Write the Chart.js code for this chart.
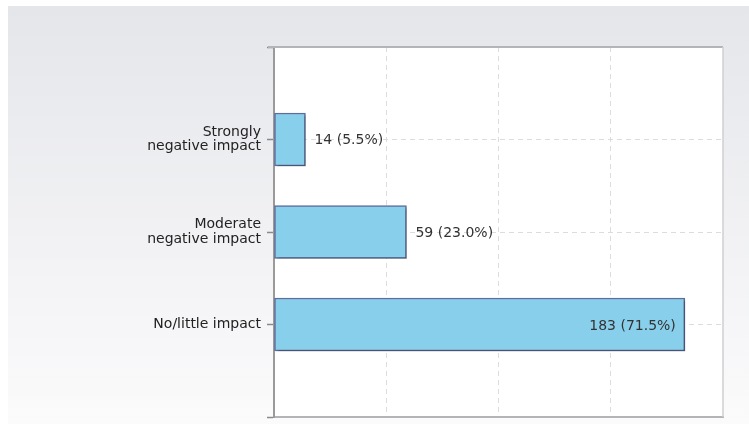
<!DOCTYPE html>
<html>
<head>
<meta charset="utf-8">
<script src="https://cdn.jsdelivr.net/npm/chart.js@4"></script>
<style>
  body { margin: 0; background: #fff; }
  #wrap { width: 749px; height: 424px; }
</style>
</head>
<body>
<div id="wrap"><canvas id="impactChart" width="749" height="424"></canvas></div>
<script>
const categories = [["Strongly", "negative impact"], ["Moderate", "negative impact"], "No/little impact"];
const counts = [14, 59, 183];
const percents = [5.5, 23.0, 71.5];
const xMax = 200;
const xStep = 50;

// blank slots top and bottom so the categories sit on the inner ticks
const labels = [""].concat(categories, [""]);
const values = [null].concat(counts, [null]);
const pcts = [null].concat(percents, [null]);

const panelBg = {
  id: "panelBg",
  beforeDraw(chart) {
    const ctx = chart.ctx;
    const area = chart.chartArea;
    const g = ctx.createLinearGradient(0, 6, 0, chart.height);
    g.addColorStop(0, "#e5e6ea");
    g.addColorStop(1, "#fbfbfc");
    ctx.save();
    ctx.fillStyle = g;
    ctx.fillRect(8, 6, chart.width - 8, chart.height - 6);
    ctx.fillStyle = "#ffffff";
    ctx.fillRect(area.left, area.top, area.right - area.left, area.bottom - area.top);
    ctx.restore();
  },
  afterDraw(chart) {
    const ctx = chart.ctx;
    const area = chart.chartArea;
    ctx.save();
    ctx.strokeStyle = "#b4b4b8";
    ctx.lineWidth = 2;
    ctx.beginPath();
    ctx.moveTo(area.left - 6, area.top);
    ctx.lineTo(area.right, area.top);
    ctx.stroke();
    ctx.strokeStyle = "#cfcfd2";
    ctx.lineWidth = 1.5;
    ctx.beginPath();
    ctx.moveTo(area.right, area.top);
    ctx.lineTo(area.right, area.bottom);
    ctx.stroke();
    ctx.restore();
  },
};

const barShadow = {
  id: "barShadow",
  beforeDatasetsDraw(chart) {
    const ctx = chart.ctx;
    ctx.save();
    ctx.shadowColor = "rgba(0,0,0,0.25)";
    ctx.shadowOffsetX = 2;
    ctx.shadowOffsetY = 2;
    ctx.shadowBlur = 2;
  },
  afterDatasetsDraw(chart) {
    chart.ctx.restore();
  },
};

const valueLabels = {
  id: "valueLabels",
  afterDatasetsDraw(chart) {
    const ctx = chart.ctx;
    const meta = chart.getDatasetMeta(0);
    ctx.save();
    ctx.font = "14px 'DejaVu Sans'";
    ctx.fillStyle = "#333333";
    ctx.textBaseline = "middle";
    meta.data.forEach((bar, i) => {
      if (values[i] === null) return;
      const text = values[i] + " (" + pcts[i].toFixed(1) + "%)";
      const w = ctx.measureText(text).width;
      const barLen = bar.x - bar.base;
      if (barLen > w * 2) {
        ctx.textAlign = "right";
        ctx.fillText(text, bar.x - 9, bar.y + 2);
      } else {
        ctx.textAlign = "left";
        ctx.fillText(text, bar.x + 9, bar.y + 1);
      }
    });
    ctx.restore();
  },
};

const ctx = document.getElementById("impactChart").getContext("2d");
new Chart(ctx, {
  type: "bar",
  data: {
    labels: labels,
    datasets: [
      {
        data: values,
        backgroundColor: "#88cfeb",
        borderColor: "#5d6d9c",
        borderWidth: 1.5,
        borderSkipped: false,
        barThickness: 53,
      },
    ],
  },
  options: {
    indexAxis: "y",
    responsive: false,
    animation: false,
    layout: { padding: { left: 0, top: 47, right: 26, bottom: 7 } },
    plugins: {
      legend: { display: false },
      tooltip: { enabled: false },
    },
    scales: {
      x: {
        min: 0,
        max: xMax,
        ticks: { display: false, stepSize: xStep },
        grid: {
          drawTicks: false,
          color: (c) => (c.index === 0 || c.tick.value === xMax ? "rgba(0,0,0,0)" : "#dcdcdc"),
          lineWidth: 1,
        },
        border: { display: true, color: "#b4b4b8", width: 2, dash: [5, 4] },
        afterFit(scale) {
          scale.height = 0;
          scale.paddingLeft = 0;
          scale.paddingRight = 0;
        },
      },
      y: {
        offset: false,
        ticks: {
          color: "#222222",
          padding: 6,
          autoSkip: false,
          font: { family: "'DejaVu Sans'", size: 14, lineHeight: 1.05 },
        },
        grid: {
          offset: false,
          drawTicks: true,
          tickLength: 7,
          tickColor: "#8a8a8a",
          tickWidth: 1.5,
          color: (c) => (c.index === 0 || c.index === labels.length - 1 ? "rgba(0,0,0,0)" : "#dcdcdc"),
        },
        border: { display: true, color: "#9a9a9a", width: 2, dash: [5, 4] },
        afterFit(scale) {
          scale.width = 274;
          scale.paddingTop = 0;
          scale.paddingBottom = 0;
        },
      },
    },
  },
  plugins: [panelBg, barShadow, valueLabels],
});
</script>
</body>
</html>
